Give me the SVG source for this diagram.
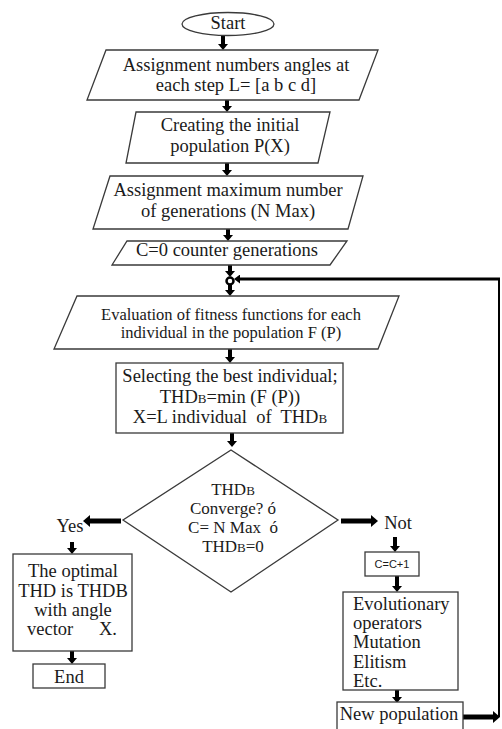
<svg xmlns="http://www.w3.org/2000/svg" width="502" height="729" viewBox="0 0 502 729">
<style>
.s{fill:#fff;stroke:#3a3a3a;stroke-width:1.3}
.t{font-family:"Liberation Serif","Times New Roman",serif;font-size:18.5px;fill:#1a1a1a;text-anchor:middle}
.e{font-size:16.5px}
.d{font-size:17px}
.l{text-anchor:start}
.sm{font-size:13px}
.a{stroke:#000;stroke-width:4;fill:none}
.h{stroke:#000;stroke-width:5;fill:none}
</style>
<defs>
<marker id="ah" markerUnits="userSpaceOnUse" viewBox="0 0 6 10" refX="0" refY="5" markerWidth="6" markerHeight="10" orient="auto"><path d="M0,0 L6,5 L0,10 z" fill="#000"/></marker>
<marker id="ah2" markerUnits="userSpaceOnUse" viewBox="0 0 7 12" refX="0" refY="6" markerWidth="7" markerHeight="12" orient="auto"><path d="M0,0 L7,6 L0,12 z" fill="#000"/></marker>
<marker id="ah3" markerUnits="userSpaceOnUse" viewBox="0 0 6 9" refX="0" refY="4.5" markerWidth="6" markerHeight="9" orient="auto"><path d="M0,0 L6,4.5 L0,9 z" fill="#000"/></marker>
</defs>

<g id="connectors">
<line class="a" x1="223" y1="36" x2="223" y2="44" marker-end="url(#ah)"/>
<line class="a" x1="227" y1="100" x2="227" y2="106" marker-end="url(#ah)"/>
<line class="a" x1="227" y1="163" x2="227" y2="170" marker-end="url(#ah)"/>
<line class="a" x1="228" y1="229" x2="228" y2="235" marker-end="url(#ah)"/>
<line class="a" x1="230" y1="265" x2="230" y2="271" marker-end="url(#ah)"/>
<line class="a" x1="230" y1="285" x2="230" y2="290" marker-end="url(#ah)"/>
<line class="a" x1="230" y1="349" x2="230" y2="357" marker-end="url(#ah)"/>
<line class="a" x1="232" y1="433" x2="232" y2="441" marker-end="url(#ah)"/>
<line class="h" x1="121" y1="521" x2="90" y2="521" marker-end="url(#ah2)"/>
<line class="a" x1="72" y1="542" x2="72" y2="548" marker-end="url(#ah)"/>
<line class="a" x1="72" y1="651" x2="72" y2="658" marker-end="url(#ah)"/>
<line class="h" x1="341" y1="521" x2="371" y2="521" marker-end="url(#ah2)"/>
<line class="a" x1="395" y1="537" x2="395" y2="546" marker-end="url(#ah)"/>
<line class="a" x1="397" y1="576" x2="397" y2="586" marker-end="url(#ah)"/>
<line class="a" x1="397" y1="690" x2="397" y2="697" marker-end="url(#ah)"/>
<line class="h" x1="463" y1="717" x2="493" y2="717" marker-end="url(#ah2)"/>
<line x1="499" y1="717" x2="499" y2="278" stroke="#000" stroke-width="2"/>
<line x1="500" y1="279" x2="240" y2="279" stroke="#000" stroke-width="3" marker-end="url(#ah3)"/>
<circle cx="230" cy="281" r="3.5" fill="#fff" stroke="#000" stroke-width="2.5"/>
</g>

<g id="start">
<ellipse class="s" cx="228" cy="24" rx="46" ry="11.5"/>
<text class="t" x="228" y="29" font-size="17.5">Start</text>
</g>

<g id="assign-angles">
<polygon class="s" points="106,50 378,50 359,100 87,100"/>
<text class="t" x="236" y="71">Assignment numbers angles at</text>
<text class="t" x="236" y="91">each step L= [a b c d]</text>
</g>

<g id="initial-population">
<polygon class="s" points="136,112 330,112 318,163 126,163"/>
<text class="t" x="230" y="131">Creating the initial</text>
<text class="t" x="230" y="152">population P(X)</text>
</g>

<g id="max-generations">
<polygon class="s" points="110,176 363,176 348,229 93,229"/>
<text class="t" x="228" y="196">Assignment maximum number</text>
<text class="t" x="228" y="217">of generations (N Max)</text>
</g>

<g id="counter">
<polygon class="s" points="127,241 347,241 330,265 112,265"/>
<text class="t" x="227" y="256">C=0 counter generations</text>
</g>

<g id="evaluation">
<polygon class="s" points="77,296 399,296 378,349 54,349"/>
<text class="t e" x="231" y="320">Evaluation of fitness functions for each</text>
<text class="t e" x="231" y="338">individual in the population F (P)</text>
</g>

<g id="select-best">
<rect class="s" x="116" y="363" width="227" height="70"/>
<text class="t" x="230" y="382">Selecting the best individual;</text>
<text class="t" x="230" y="403">THD<tspan class="sm">B</tspan>=min (F (P))</text>
<text class="t" x="230" y="423" xml:space="preserve">X=L individual  of  THD<tspan class="sm">B</tspan></text>
</g>

<g id="decision">
<polygon class="s" points="231,450 338,520 231,592 123,520"/>
<text class="t d" x="233" y="495">THD<tspan class="sm">B</tspan></text>
<text class="t d" x="233" y="514">Converge? ó</text>
<text class="t d" x="233" y="533" xml:space="preserve">C= N Max  ó</text>
<text class="t d" x="233" y="552">THD<tspan class="sm">B</tspan>=0</text>
</g>

<g id="label-yes"><text class="t" x="70" y="532" font-size="16">Yes</text></g>
<g id="label-not"><text class="t" x="398" y="529" font-size="16">Not</text></g>

<g id="optimal">
<rect class="s" x="13" y="554" width="119" height="97"/>
<text class="t" x="73" y="577">The optimal</text>
<text class="t" x="73" y="597">THD is THDB</text>
<text class="t" x="73" y="616">with angle</text>
<text class="t l" x="27" y="635">vector<tspan x="99">X.</tspan></text>
</g>

<g id="end">
<rect class="s" x="33" y="664" width="72" height="24"/>
<text class="t" x="69" y="683">End</text>
</g>

<g id="increment">
<rect class="s" x="365" y="552" width="54" height="24"/>
<text x="392" y="568" font-family="Liberation Sans, Arial, sans-serif" font-size="11" fill="#1a1a1a" text-anchor="middle">C=C+1</text>
</g>

<g id="operators">
<rect class="s" x="343" y="592" width="115" height="98"/>
<text class="t l" x="353" y="610">Evolutionary</text>
<text class="t l" x="353" y="629">operators</text>
<text class="t l" x="353" y="648">Mutation</text>
<text class="t l" x="353" y="668">Elitism</text>
<text class="t l" x="353" y="687">Etc.</text>
</g>

<g id="new-population">
<rect class="s" x="337" y="702" width="126" height="32"/>
<text class="t" x="399" y="720">New population</text>
</g>
</svg>
